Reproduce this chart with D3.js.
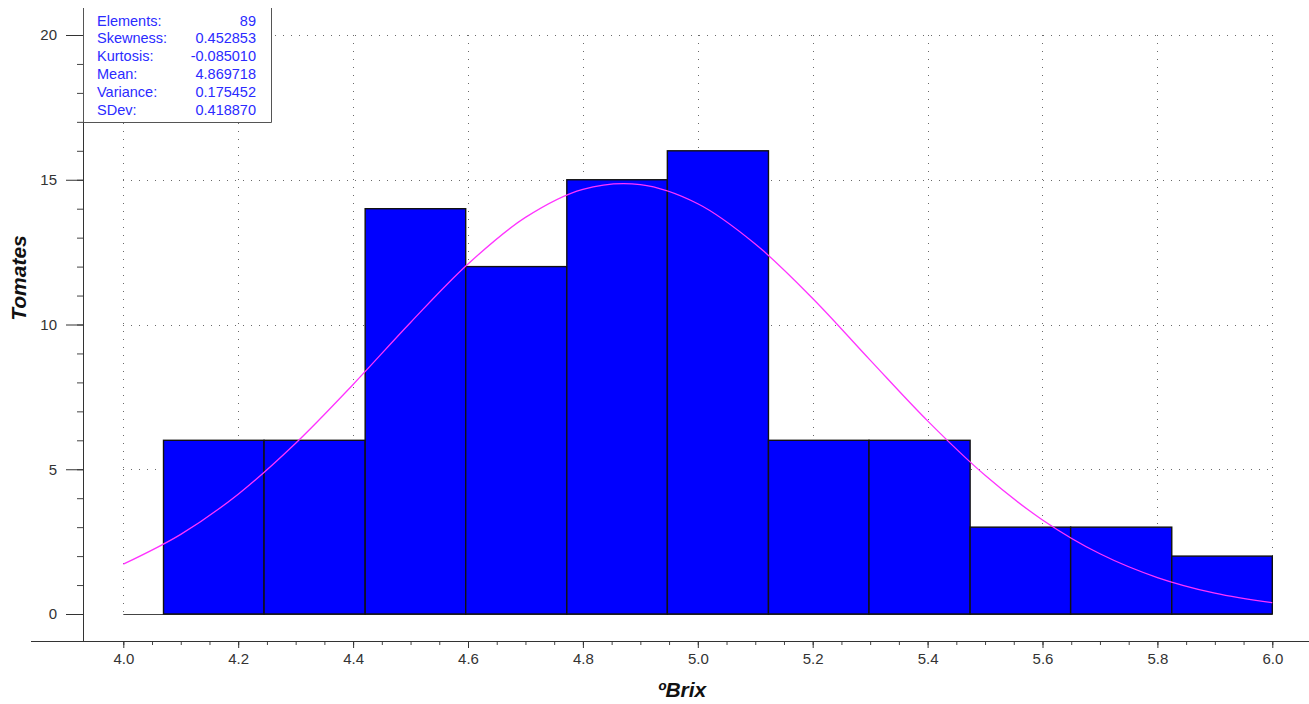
<!DOCTYPE html>
<html>
<head>
<meta charset="utf-8">
<script src="https://cdn.jsdelivr.net/npm/d3@7"></script>
<style>
  html, body { margin: 0; padding: 0; background: #fff; }
  svg { display: block; font-family: "Liberation Sans", Arial, sans-serif; }
</style>
</head>
<body>
<svg id="chart" width="1309" height="704"></svg>
<script>
// Histogram of °Brix readings (11 bins) with the fitted normal curve
const binEdges = [4.07, 4.245, 4.421, 4.596, 4.772, 4.947, 5.123, 5.298, 5.474, 5.649, 5.825, 6.0];
const counts   = [6, 6, 14, 12, 15, 16, 6, 6, 3, 3, 2];

// Fitted normal curve, sampled every 0.1 °Brix
const curveX = [4.0, 4.1, 4.2, 4.3, 4.4, 4.5, 4.6, 4.7, 4.8, 4.9, 5.0,
                5.1, 5.2, 5.3, 5.4, 5.5, 5.6, 5.7, 5.8, 5.9, 6.0];
const curveY = [1.72, 2.75, 4.14, 5.90, 7.93, 10.07, 12.09, 13.70, 14.67, 14.83, 14.17,
                12.78, 10.90, 8.77, 6.67, 4.79, 3.25, 2.08, 1.26, 0.72, 0.39];

const xTicks = [4.0, 4.2, 4.4, 4.6, 4.8, 5.0, 5.2, 5.4, 5.6, 5.8, 6.0];
const yTicks = [0, 5, 10, 15, 20];

const statLabels = ["Elements:", "Skewness:", "Kurtosis:", "Mean:", "Variance:", "SDev:"];
const statValues = ["89", "0.452853", "-0.085010", "4.869718", "0.175452", "0.418870"];

const xTitle = "ºBrix";
const yTitle = "Tomates";

const svg = d3.select("#chart");

const x = d3.scaleLinear().domain([4.0, 6.0]).range([123.3, 1272.3]);
const y = d3.scaleLinear().domain([0, 20]).range([614, 35]);

const axisX = 83, axisY = 641;

// dotted grid
const grid = svg.append("g").attr("stroke", "#6a6a6a").attr("stroke-width", 1)
  .attr("stroke-dasharray", "1,7").attr("shape-rendering", "crispEdges");
grid.selectAll("line.v").data(xTicks).join("line")
  .attr("x1", d => Math.round(x(d)) + 0.5).attr("x2", d => Math.round(x(d)) + 0.5)
  .attr("y1", y(20)).attr("y2", y(0));
grid.selectAll("line.h").data(yTicks.filter(d => d > 0)).join("line")
  .attr("y1", d => Math.round(y(d)) + 0.5).attr("y2", d => Math.round(y(d)) + 0.5)
  .attr("x1", x(4.0)).attr("x2", x(6.0));

// baseline
svg.append("line")
  .attr("x1", x(4.0)).attr("x2", x(6.0))
  .attr("y1", y(0) + 0.5).attr("y2", y(0) + 0.5)
  .attr("stroke", "#444").attr("stroke-width", 1.2);

// bars
svg.append("g").selectAll("rect").data(counts).join("rect")
  .attr("x", (d, i) => x(binEdges[i]))
  .attr("width", (d, i) => x(binEdges[i + 1]) - x(binEdges[i]))
  .attr("y", d => y(d))
  .attr("height", d => y(0) - y(d))
  .attr("fill", "#0000ff")
  .attr("stroke", "#111")
  .attr("stroke-width", 1.4);

// normal curve
const line = d3.line()
  .x((d, i) => x(curveX[i]))
  .y(d => y(d))
  .curve(d3.curveCatmullRom);
svg.append("path").datum(curveY)
  .attr("d", line)
  .attr("fill", "none")
  .attr("stroke", "#ff33ff")
  .attr("stroke-width", 1.3);

// y axis
const yMinor = d3.range(0, 21, 1);
svg.append("g").attr("transform", `translate(${axisX},0)`)
  .call(d3.axisLeft(y).tickValues(yMinor).tickSize(6).tickFormat(""))
  .call(g => g.select(".domain").remove())
  .call(g => g.selectAll("line").attr("stroke", "#444"));
const yAxis = svg.append("g").attr("transform", `translate(${axisX},0)`)
  .call(d3.axisLeft(y).tickValues(yTicks).tickSize(17).tickPadding(9).tickFormat(d3.format("d")))
  .call(g => g.select(".domain").remove());
yAxis.selectAll("line").attr("stroke", "#333");
yAxis.selectAll("text").attr("fill", "#333").attr("font-size", 15)
  .attr("font-family", "Liberation Sans, Arial, sans-serif");

// x axis
const xMinor = d3.range(0, 41).map(i => 4.0 + i * 0.05);
svg.append("g").attr("transform", `translate(0,${axisY})`)
  .call(d3.axisBottom(x).tickValues(xMinor).tickSize(4).tickFormat(""))
  .call(g => g.select(".domain").remove())
  .call(g => g.selectAll("line").attr("stroke", "#444"));
const xAxis = svg.append("g").attr("transform", `translate(0,${axisY})`)
  .call(d3.axisBottom(x).tickValues(xTicks).tickSize(7).tickPadding(5).tickFormat(d3.format(".1f")))
  .call(g => g.select(".domain").remove());
xAxis.selectAll("line").attr("stroke", "#333");
xAxis.selectAll("text").attr("fill", "#333").attr("font-size", 15)
  .attr("font-family", "Liberation Sans, Arial, sans-serif");

// axis lines
svg.append("line").attr("x1", axisX + 0.5).attr("x2", axisX + 0.5)
  .attr("y1", 8).attr("y2", axisY).attr("stroke", "#333").attr("stroke-width", 1);
svg.append("line").attr("x1", 31).attr("x2", 1309)
  .attr("y1", axisY + 0.5).attr("y2", axisY + 0.5).attr("stroke", "#333").attr("stroke-width", 1);

// axis titles
svg.append("text").text(xTitle)
  .attr("x", 682).attr("y", 697).attr("text-anchor", "middle")
  .attr("font-size", 21).attr("font-weight", "bold").attr("font-style", "italic").attr("fill", "#111");
svg.append("text").text(yTitle)
  .attr("transform", "translate(26,278) rotate(-90)").attr("text-anchor", "middle")
  .attr("font-size", 21).attr("font-weight", "bold").attr("font-style", "italic").attr("fill", "#111");

// statistics box
const box = svg.append("g");
box.append("rect").attr("x", axisX + 1).attr("y", 8).attr("width", 271 - axisX - 1).attr("height", 114)
  .attr("fill", "#fff");
box.append("path")
  .attr("d", `M${axisX + 0.5},8 V122.5 H271.5 V8`)
  .attr("fill", "none").attr("stroke", "#555").attr("stroke-width", 1);
box.selectAll("text.lab").data(statLabels).join("text")
  .attr("x", 97).attr("y", (d, i) => 25.5 + i * 17.8)
  .attr("font-size", 14.5).attr("fill", "#2b2bff").text(d => d);
box.selectAll("text.val").data(statValues).join("text")
  .attr("x", 256).attr("y", (d, i) => 25.5 + i * 17.8).attr("text-anchor", "end")
  .attr("font-size", 14.5).attr("fill", "#2b2bff").text(d => d);
</script>
</body>
</html>
